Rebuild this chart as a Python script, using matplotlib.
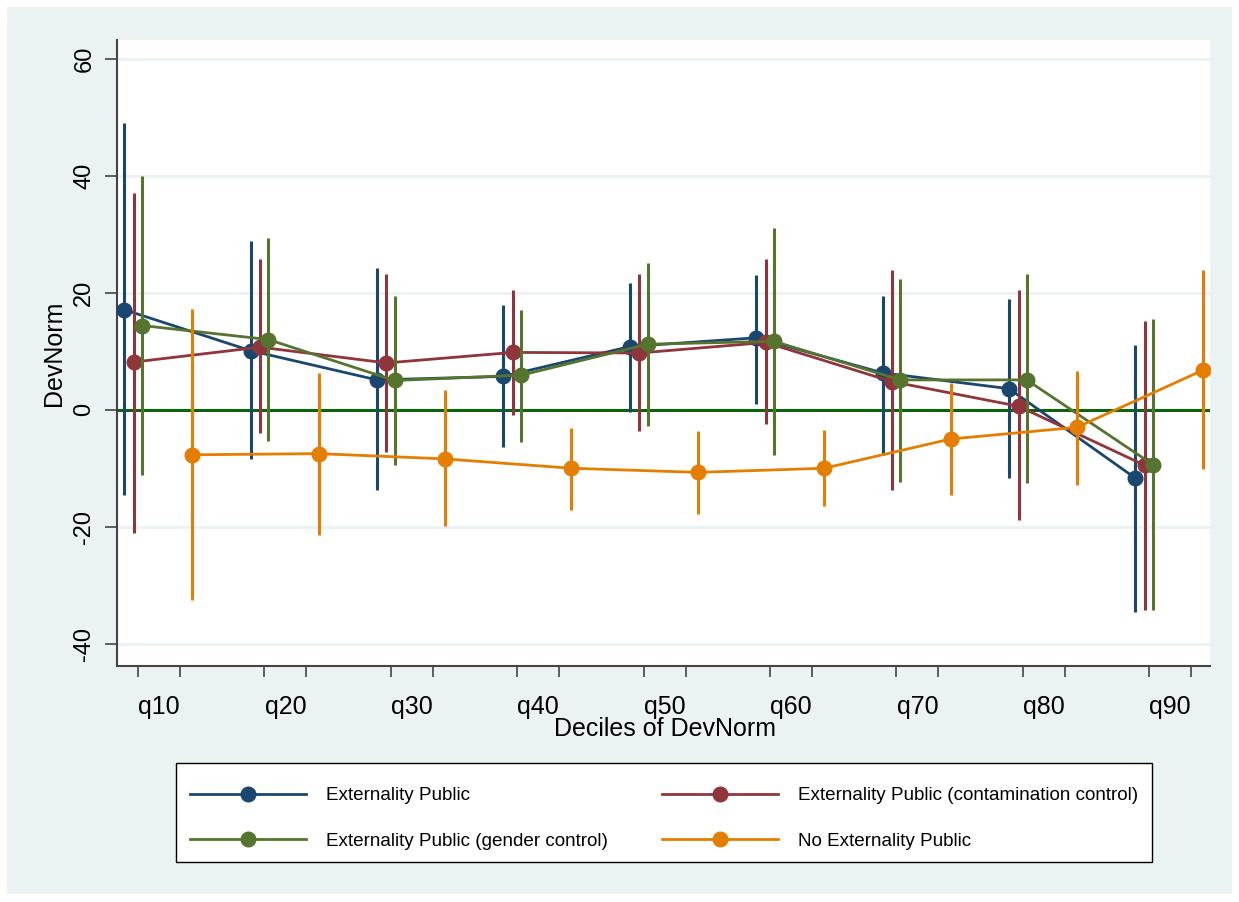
import matplotlib
matplotlib.use("Agg")
import matplotlib.pyplot as plt
from matplotlib.patches import Rectangle
import numpy as np

plt.rcParams['font.family'] = ['Liberation Sans', 'DejaVu Sans']
plt.rcParams['axes.unicode_minus'] = False

# ---------------- data ----------------
deciles = ['q10', 'q20', 'q30', 'q40', 'q50', 'q60', 'q70', 'q80', 'q90']

ext_pub = [17.1, 10.1, 5.1, 5.7, 10.8, 12.3, 6.3, 3.6, -11.7]
ext_pub_lo = [-14.6, -8.4, -13.8, -6.4, -0.3, 1.0, -7.7, -11.6, -34.5]
ext_pub_hi = [49.0, 28.9, 24.3, 17.9, 21.7, 23.0, 19.4, 18.9, 11.1]

ext_cont = [8.15, 10.7, 8.0, 9.8, 9.7, 11.5, 4.8, 0.6, -9.5]
ext_cont_lo = [-21.0, -4.0, -7.2, -0.9, -3.6, -2.4, -13.8, -18.9, -34.2]
ext_cont_hi = [37.1, 25.8, 23.2, 20.5, 23.2, 25.8, 23.9, 20.5, 15.2]

ext_gender = [14.4, 12.0, 5.0, 5.9, 11.2, 11.7, 5.1, 5.1, -9.4]
ext_gender_lo = [-11.2, -5.4, -9.5, -5.5, -2.7, -7.8, -12.3, -12.5, -34.2]
ext_gender_hi = [39.9, 29.4, 19.5, 17.0, 25.1, 31.1, 22.3, 23.2, 15.5]

no_ext = [-7.7, -7.5, -8.4, -10.0, -10.7, -10.0, -5.0, -3.0, 6.8]
no_ext_lo = [-32.5, -21.4, -19.9, -17.1, -17.9, -16.5, -14.5, -12.8, -10.1]
no_ext_hi = [17.2, 6.3, 3.3, -3.1, -3.7, -3.4, 4.6, 6.7, 23.9]

labels = ['Externality Public',
          'Externality Public (contamination control)',
          'Externality Public (gender control)',
          'No Externality Public']

# ---------------- style ----------------
W, H = 1239, 902
fig = plt.figure(figsize=(W / 100, H / 100), dpi=100)
fig.patch.set_facecolor('white')
bg = '#eaf2f3'
fig.add_artist(Rectangle((7 / W, 1 - 894 / H), 1225 / W, 887 / H,
                         transform=fig.transFigure, facecolor=bg,
                         edgecolor='none', zorder=-10))

L, R, T, B = 117, 1210, 40, 666
ax = fig.add_axes([L / W, 1 - B / H, (R - L) / W, (B - T) / H])
ax.set_facecolor('white')

colors = ['#1a476f', '#90353b', '#55752f', '#e37e00']
offsets = [-0.275, -0.20, -0.135, 0.263]
series = [(ext_pub, ext_pub_lo, ext_pub_hi),
          (ext_cont, ext_cont_lo, ext_cont_hi),
          (ext_gender, ext_gender_lo, ext_gender_hi),
          (no_ext, no_ext_lo, no_ext_hi)]

idx = np.arange(len(deciles))
handles = []
for k, ((y, lo, hi), c, off, lab) in enumerate(zip(series, colors, offsets, labels)):
    x = idx + off
    ax.vlines(x, lo, hi, colors=c, linewidth=2.2, zorder=3 + 2 * k)
    h, = ax.plot(x, y, '-o', color=c, linewidth=2.0, markersize=10.5,
                 label=lab, zorder=4 + 2 * k)
    handles.append(h)

ax.axhline(0, color='#0b640b', linewidth=2.2, zorder=2)

ax.set_ylim(-43.8, 63.2)
ax.set_xlim(-0.332, 8.315)

ax.set_yticks([-40, -20, 0, 20, 40, 60])
ax.grid(axis='y', color=bg, linewidth=2.0, zorder=0)
ax.set_axisbelow(True)
ax.tick_params(axis='y', direction='out', length=8.6, width=1.2,
               color='#444444', pad=7, labelsize=17)
for t in ax.get_yticklabels():
    t.set_rotation(90)
    t.set_va('center')

ax.set_xticks(idx)
ax.set_xticklabels(deciles)
ax.set_xticks(np.concatenate([idx - 0.166, idx + 0.166]), minor=True)
ax.tick_params(axis='x', which='major', length=0, pad=21, labelsize=18)
ax.tick_params(axis='x', which='minor', direction='out', length=8,
               width=1.2, color='#444444')

for s in ['top', 'right']:
    ax.spines[s].set_visible(False)
for s in ['left', 'bottom']:
    ax.spines[s].set_color('#444444')
    ax.spines[s].set_linewidth(1.5)

ax.set_xlabel('Deciles of DevNorm', fontsize=18)
ax.xaxis.set_label_coords(0.5014, -0.0815)
ax.set_ylabel('DevNorm', fontsize=18, va='center')
ax.yaxis.set_label_coords(-0.0576, 0.5)

# legend box (drawn separately so the rows can sit slightly low, as in Stata)
fig.add_artist(Rectangle((176 / W, 1 - 862 / H), 976 / W, 99 / H,
                         transform=fig.transFigure, facecolor='white',
                         edgecolor='black', linewidth=1.0, zorder=5))

# row-major legend order (matplotlib fills columns first)
order = [0, 2, 1, 3]
leg = fig.legend(handles=[handles[i] for i in order],
                 labels=[labels[i] for i in order], ncol=2, fontsize=13.6,
                 loc='center', mode='expand',
                 bbox_to_anchor=(176 / W, 1 - 868 / H, 976 / W, 99 / H),
                 frameon=False,
                 handlelength=6.14, handletextpad=1.06, borderpad=0.75,
                 labelspacing=1.5, borderaxespad=0)
leg.set_zorder(6)

fig.savefig('out.png', dpi=100, facecolor=fig.get_facecolor())
